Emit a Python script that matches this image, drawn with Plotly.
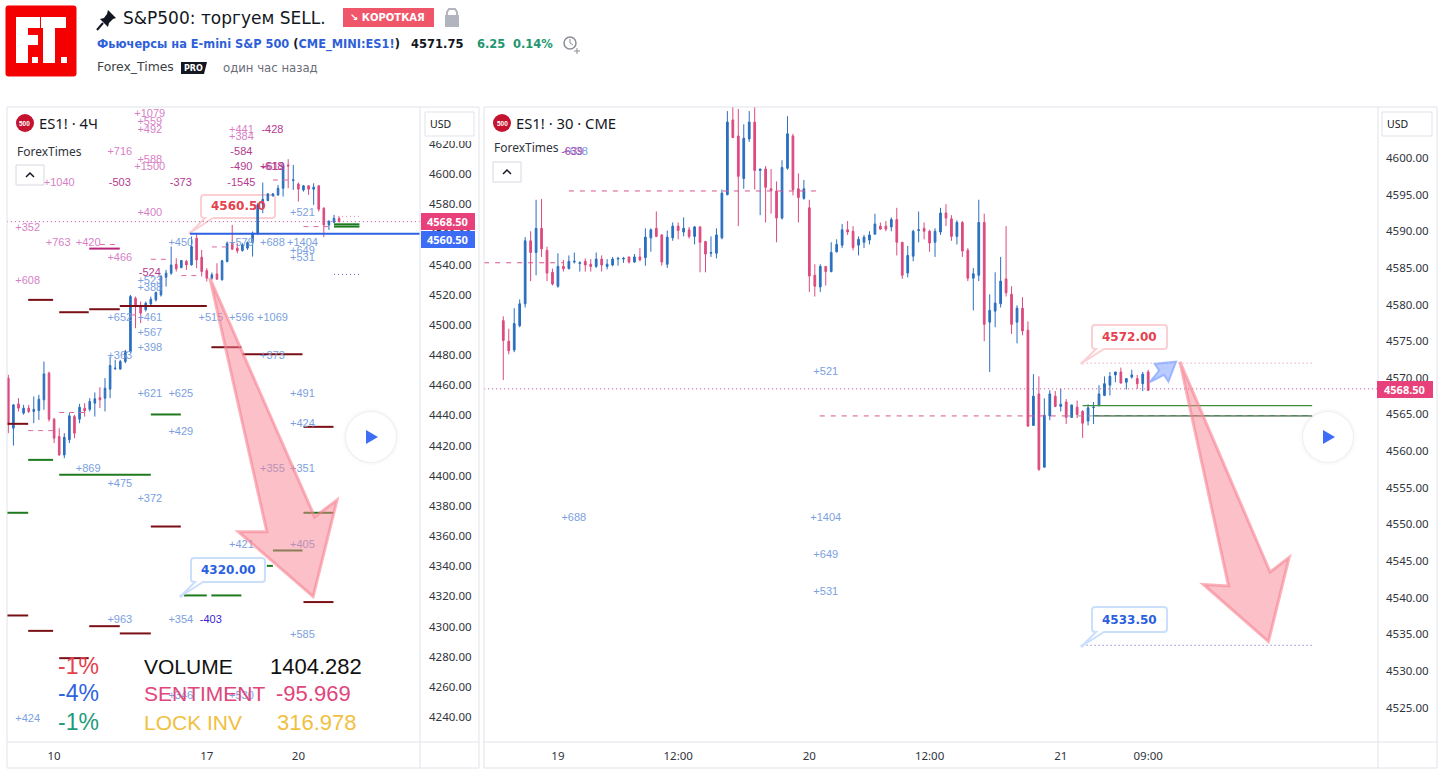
import plotly.graph_objects as go

W, H = 1443, 777
UP, DOWN = "#2a6fbf", "#dd4a7f"

# ---------- left chart: ES1! 4H ----------
left_dirs = ("d u d u d u u u d d d u u d u d u u d u u u u u u d d u u u u u u d u d u d d d "
             "u d u u d d u u u u u u u u u d u d u d u d d u u d").split()
left_high = [4466.9,4447,4451.4,4447,4447,4452.5,4453.6,4475.7,4469,4438.2,4431.5,4428.2,4441.5,4440.4,4447.6,4448.1,4451.4,4455.2,4458.7,4464.7,4479,4476.8,4476.8,4483.4,4519.9,4518.8,4515.5,4515.5,4518.8,4522.1,4533.2,4536.5,4552,4544.2,4543.1,4543.1,4558.6,4560.8,4549.7,4537.6,4534.7,4540.9,4543.1,4555.3,4566.3,4554.2,4554.2,4555.3,4561.9,4580.7,4594.4,4587.3,4587.3,4592.8,4607.2,4609.9,4606.1,4594.4,4592.8,4592.8,4593.9,4592.8,4578,4569.6,4573,4571.8]
left_top = [4464.7,4447,4447.6,4444.8,4444.8,4444,4450.7,4467.5,4468,4437.5,4426,4425.5,4439.7,4439.2,4445.4,4444.8,4449.2,4451,4451.8,4458,4473.1,4471.3,4475.7,4482.3,4518.8,4517.7,4512.2,4514.4,4517,4521.5,4532.1,4534.3,4539.8,4540.2,4542.7,4542.2,4552,4557.5,4544.9,4536,4533.2,4533.8,4542.5,4554.2,4554.6,4550.9,4553.1,4554.6,4560.8,4579.6,4583.3,4586.9,4586.9,4590.6,4605,4606.1,4596.2,4593.5,4592.2,4592.2,4591.3,4592.2,4577.4,4568.5,4570.7,4570.7]
left_bottom = [4433.7,4431.5,4444.8,4441.5,4442.6,4442.6,4443.2,4450.3,4437.5,4424.9,4413.8,4413.8,4423.8,4428.2,4437.5,4443,4444,4448.1,4450.3,4451.4,4457.4,4470.9,4470.7,4475.7,4482.3,4512.2,4507.8,4510,4513.9,4516.6,4519.9,4531.6,4534.3,4537.2,4538,4539.8,4539.8,4543.1,4535.4,4531,4531,4530.3,4529.9,4542,4550.2,4549.1,4549.3,4550.9,4554.6,4560.8,4580.2,4582.5,4585.6,4586.2,4590.6,4605.4,4595.7,4590,4589.5,4590,4590,4576.7,4566.3,4566.3,4568.1,4568.5]
left_low = [4428.2,4420,4442.6,4440.4,4441.5,4434.8,4437,4443.7,4435.9,4421.6,4413.2,4411.6,4421.6,4424.9,4434.8,4439.2,4442.6,4439.2,4444.8,4442.6,4451.4,4470.2,4470.2,4474.6,4481.2,4497.8,4501.2,4508.9,4513.2,4515.5,4518.8,4525.4,4533.2,4535.4,4537.6,4536.5,4539.3,4537.6,4532.1,4528.8,4529.9,4529.9,4529.4,4541.5,4549.7,4547.5,4548.6,4549.7,4545.3,4559.7,4574.1,4582,4585.1,4585.5,4585.1,4590.6,4589.5,4581.8,4588.4,4586.2,4579.6,4575.2,4558.2,4563,4567.4,4568]
left_ticks = [9, 39, 57]
left_tick_text = ["10", "17", "20"]
left_price_ticks = list(range(4240, 4621, 20))

left_pink_text = ["+1079","+559","+492","+441","+384","+716","+588","+1500","+1040","+400","+352","+763","+420","+466","+608"]
left_pink_bar = [27.8,27.8,27.8,45.8,45.8,21.9,27.8,27.8,10,27.8,3.8,9.8,15.7,21.9,3.8]
left_pink_price = [4639.8,4634.3,4629.4,4629.4,4624.5,4614.6,4609.5,4604.6,4594,4574.1,4564.2,4554.3,4554.3,4544.3,4528.9]
left_dark_text = ["-428","-584","-490","+619","-618","-503","-373","-1545","-524"]
left_dark_bar = [51.9,45.8,45.8,51.9,51.9,21.9,33.9,45.8,27.8]
left_dark_price = [4629.4,4614.6,4604.6,4604.6,4604.6,4594,4594,4594,4534.4]
left_blue_text = ["+450","+521","+579","+688","+1404","+649","+531","+523","+388","+652","+461","+515","+596","+1069","+567","+398","+363","+373","+621","+625","+491","+429","+424","+869","+475","+372","+355","+351","+421","+405","+963","+354","+585","+346","+530","+424"]
left_blue_bar = [33.9,57.8,45.8,51.9,57.8,57.8,57.8,27.8,27.8,21.9,27.8,39.8,45.8,51.9,27.8,27.8,21.9,51.9,27.8,33.9,57.8,33.9,57.8,15.7,21.9,27.8,51.9,57.8,45.8,57.8,21.9,33.9,57.8,33.9,45.8,3.8]
left_blue_price = [4554.3,4574.1,4554.3,4554.3,4554.3,4548.7,4544.3,4528.9,4524,4504.5,4504.5,4504.5,4504.5,4504.5,4494.2,4484.2,4479.1,4479.1,4454.1,4454.1,4454.1,4428.9,4434.2,4404,4394,4384.1,4404,4404,4353.8,4353.8,4303.9,4303.9,4293.9,4253.7,4253.7,4238.7]
left_navy_text, left_navy_bar, left_navy_price = ["-403"], [39.8], [4303.9]

left_red_start = [3.9,10,15.9,21.9,39.9,46,58,28,58,-0.3,3.9,15.9,21.9,10,-0.3]
left_red_end = [8.8,15.8,21.9,39,45.8,57.8,63.9,33.9,63.9,3.9,8.8,21.9,28,15.8,3.9]
left_red_price = [4516.6,4508.4,4510.4,4512.6,4485.2,4480.5,4432.4,4366.3,4316.2,4307.3,4297.1,4300.2,4295.4,4279,4434.4]
left_green_start = [28,3.9,10,-0.3,58,52,50.8,34.5,39.9,64,64]
left_green_end = [33.9,8.8,28,3.9,63.9,57.8,52,39,45.8,69,69]
left_green_price = [4440.6,4410.5,4400.6,4375.4,4375.4,4350.4,4340.2,4320.6,4320.6,4566.7,4565.2]
left_magenta_start, left_magenta_end, left_magenta_price = [15.9], [21.9], [4550.6]
left_dash_start = [3.9,10,28,34,40,18,52,58,24]
left_dash_end = [8.8,15.5,31.5,37.5,43,21.5,56,63.9,25.5]
left_dash_price = [4429.9,4441.9,4543.5,4532.7,4551.7,4553.3,4596.1,4565.2,4506.6]
left_dot_start, left_dot_end = [64, 64], [69, 69]
left_dot_price = [4572, 4533.5]
left_last, left_level = 4568.5, 4560.5
left_level_start = 35.7
left_arrow_bar = [39.6,50.8,45.2,59.9,64.6,60.2]
left_arrow_price = [4531.1,4362.9,4362.9,4319.8,4383.9,4372.7]

# ---------- right chart: ES1! 30 ----------
right_dirs = ("d d u u u d u d d d u d u u u d d u d u "
              "u u u d u d u u d d u u d u d u d d u u "
              "u u d d u u d u d d d u u d d u d d u d "
              "u u u d d u u u u d d u d d u u u d d u "
              "u d d u d d u u d u u u d d u d d u d u "
              "u d u d u d d u u u u u u d u u d u d").split()
right_high = [4578.4,4576.7,4579.5,4580.7,4589.2,4590,4594.3,4594.4,4587.9,4584.9,4587,4586.1,4586.7,4587.1,4585.9,4586.3,4586.2,4587.1,4586.7,4586.2,4586.5,4586.5,4586.5,4586.5,4586.9,4587.7,4590.4,4590.4,4592.7,4589.6,4590.1,4591.2,4591.2,4591.9,4590.6,4590.7,4590.7,4588.7,4589.3,4590.4,4595.7,4606.4,4608,4606.7,4604.6,4606.4,4608,4598.5,4598.9,4598.5,4596.8,4599.7,4605.7,4603.3,4597.9,4597,4594.3,4585.5,4585.5,4585.2,4588.5,4588.9,4591,4591.4,4590.7,4589.3,4589.5,4590,4592.4,4591.2,4591.4,4591.9,4593.2,4588.5,4588,4590.2,4592.7,4591.2,4590.2,4590.4,4593.2,4593.7,4592.2,4591.5,4591.4,4587.7,4585,4594.3,4592.4,4581.4,4584.4,4586.5,4590.7,4582.5,4579.9,4581,4577.7,4570.5,4570.2,4567.2,4568.3,4568.2,4568.5,4567.1,4566.3,4566.9,4565.6,4566.4,4566.7,4569,4570.2,4570.8,4570.8,4571.4,4569.9,4571.1,4570.4,4570.8,4571.1]
right_top = [4577.8,4575,4577.4,4580.1,4588.7,4588.7,4590.4,4590.4,4587.4,4584.4,4585.2,4585.2,4585.9,4585.9,4585.7,4585.9,4585.5,4586.2,4586.2,4585.5,4586.2,4586.3,4586.3,4586.5,4586.5,4586.5,4589.2,4590.2,4590.4,4589.5,4589.2,4590.7,4590.7,4590.4,4590.2,4590.6,4590.6,4588.6,4587.1,4589.5,4595.2,4604.9,4605.2,4603,4602.7,4604.9,4604.9,4598.5,4598.5,4595.8,4595.5,4598.7,4603.3,4603,4595.8,4595.8,4593.2,4584,4585.2,4585.2,4587.1,4588.2,4590.2,4590.2,4590,4588.9,4589.2,4589.5,4591,4590.7,4590.7,4591.6,4591.6,4588.5,4586.7,4590,4590.2,4590.4,4590,4590,4592.5,4592.5,4591.7,4591.2,4591.2,4587.4,4584.2,4591.2,4591.2,4579.2,4580.2,4583.2,4583.5,4581.4,4579.5,4579.5,4576.5,4567.5,4567.8,4564.9,4567.8,4567.5,4566.4,4566.7,4566.3,4566,4565.4,4565.9,4566,4567.8,4569.2,4570.2,4570.8,4570.8,4569.9,4570.4,4569.9,4570.5,4570.8]
right_bottom = [4575.1,4573.7,4573.8,4577.1,4580.1,4587.1,4587.1,4587.6,4584.3,4582.8,4582.5,4584.9,4584.9,4585.8,4585.6,4585.4,4585.2,4585.2,4585.4,4585.2,4585.4,4586.2,4586.2,4585.8,4585.8,4586.1,4586.4,4589.1,4589.3,4585.8,4585.5,4589.1,4590.1,4589.9,4589.3,4589.3,4588.5,4586.9,4587,4587,4589.1,4595,4602.8,4597.5,4597.2,4602.6,4598.3,4598.3,4596,4595.6,4591.8,4591.8,4598.6,4595.7,4594.6,4594.5,4583.9,4582.5,4582.4,4584.5,4584.5,4587.2,4588.1,4589.9,4587.8,4588.1,4588.5,4588.8,4589.6,4590.3,4590.3,4590.6,4588.5,4584,4584.3,4586.6,4590.1,4590,4588.4,4588.5,4589.9,4591.8,4589.3,4589.3,4587.3,4583.6,4583.6,4584,4577.3,4577.6,4579.1,4580.1,4581.6,4577.3,4577.6,4576.4,4563.4,4563.5,4557.5,4557.8,4564.8,4566.1,4566.1,4564.6,4564.6,4565,4563.8,4564.1,4565.95,4566.3,4567.6,4569,4570.4,4569.3,4569.4,4570.1,4569.2,4569.2,4568.3]
right_low = [4569.7,4573.2,4573.5,4576.9,4579.6,4583.2,4584,4586.5,4583.2,4582.6,4582.3,4584.5,4584.8,4585.6,4584.5,4584.5,4584.5,4585,4584.5,4584.8,4585.2,4585.3,4585.7,4585.6,4585.7,4585.9,4585.3,4587.2,4589.2,4585.3,4585,4588.7,4588.9,4589.3,4589,4588.2,4584.4,4584.4,4586.5,4586.3,4588.9,4594.9,4602.7,4590.7,4595.8,4602.2,4595.7,4592.2,4591.2,4592.4,4588.5,4591.6,4598.4,4594.9,4591.2,4594.3,4581.7,4581.1,4581.7,4582.6,4584.4,4587.1,4587.7,4589.5,4587.4,4586.7,4587.7,4588.2,4589.6,4590.2,4590,4590,4586.7,4583.5,4583.7,4585.9,4588.5,4588.9,4587.2,4586.5,4589.5,4590.7,4588.7,4588.2,4586.5,4583.2,4579.2,4583.2,4575,4570.8,4576.9,4579.6,4581.1,4576,4574.7,4575.8,4563.4,4563.5,4557.3,4557.8,4564.2,4566,4565.4,4563.7,4564.6,4564.5,4561.8,4563.5,4563.7,4566.1,4567.5,4567.6,4569.4,4569.2,4568.4,4569.9,4568.5,4568.2,4568.2]
right_ticks = [10, 32, 56, 78, 102, 118]
right_tick_text = ["19", "12:00", "20", "12:00", "21", "09:00"]
right_price_ticks = list(range(4525, 4601, 5))

right_blue_text = ["+521","+688","+1404","+649","+531","+638"]
right_blue_bar = [59,12.9,59,59,59,13.2]
right_blue_price = [4570.8,4550.8,4550.8,4545.8,4540.7,4600.8]
right_dark_text, right_dark_bar, right_dark_price = ["-639"], [12.6], [4600.8]
right_dash_start = [12,-3.5,57.9]
right_dash_end = [57.4,11.1,103]
right_dash_price = [4595.5,4585.7,4564.8]
right_grey_start, right_grey_end, right_grey_price = [103], [148], [4564.8]
right_light_green_start, right_light_green_end, right_light_green_price = [106], [148], [4566.2]
right_green_start, right_green_end, right_green_price = [108.1], [148], [4564.8]
right_dot_start, right_dot_end = [106,106], [148,148]
right_dot_price = [4572,4533.5]
right_last = 4568.5
right_arrow_bar = [123.8,132.7,128.1,140,143.8,140.3]
right_arrow_price = [4572.2,4541.6,4541.8,4534,4545.5,4543.5]
right_small_bar = [118.3,120,119.2,123.1,121.7,120.9]
right_small_price = [4569.4,4571,4571.9,4572.2,4569.5,4570.4]

legend_pct = ["-1%", "-4%", "-1%"]
legend_name = ["VOLUME", "SENTIMENT", "LOCK INV"]
legend_value = ["1404.282", "-95.969", "316.978"]


def X(x): return x / W
def Y(y): return 1 - y / H
def P(x, y): return f"{X(x):.5f},{Y(y):.5f}"


shapes, notes = [], []
def rect(x0, y0, x1, y1, fill=None, line=None, lw=1, layer="above"):
    shapes.append(dict(type="rect", xref="paper", yref="paper", x0=X(x0), x1=X(x1), y0=Y(y0), y1=Y(y1),
                       fillcolor=fill or "rgba(0,0,0,0)", line=dict(color=line or "rgba(0,0,0,0)", width=lw), layer=layer))
def circ(cx, cy, r, fill=None, line=None, lw=1, layer="above"):
    shapes.append(dict(type="circle", xref="paper", yref="paper", x0=X(cx - r), x1=X(cx + r), y0=Y(cy - r), y1=Y(cy + r),
                       fillcolor=fill or "rgba(0,0,0,0)", line=dict(color=line or "rgba(0,0,0,0)", width=lw), layer=layer))
def path(pts, fill=None, line=None, lw=1, close=True, layer="above"):
    d = "M " + " L ".join(P(*p) for p in pts) + (" Z" if close else "")
    shapes.append(dict(type="path", xref="paper", yref="paper", path=d, fillcolor=fill or "rgba(0,0,0,0)",
                       line=dict(color=line or "rgba(0,0,0,0)", width=lw), layer=layer))
def txt(x, y, s, size=12, color="#131722", font="Noto Sans", anchor="left"):
    notes.append(dict(xref="paper", yref="paper", x=X(x), y=Y(y), text=s, showarrow=False, xanchor=anchor,
                      yanchor="middle", borderpad=0, font=dict(size=size, color=color, family=font)))
def callout(x0, y0, x1, y1, tx, ty, color, text, tcolor, layer="above"):
    r = 3
    d = (f"M {P(x0 + r, y0)} L {P(x1 - r, y0)} Q {P(x1, y0)} {P(x1, y0 + r)} L {P(x1, y1 - r)} Q {P(x1, y1)} {P(x1 - r, y1)} "
         f"L {P(x0 + 12, y1)} L {P(tx, ty)} L {P(x0 + 4, y1)} L {P(x0 + r, y1)} Q {P(x0, y1)} {P(x0, y1 - r)} "
         f"L {P(x0, y0 + r)} Q {P(x0, y0)} {P(x0 + r, y0)} Z")
    shapes.append(dict(type="path", xref="paper", yref="paper", path=d, fillcolor="white", line=dict(color=color, width=2), layer=layer))
    circ(tx, ty, 1.7, fill=color, layer=layer)
    txt((x0 + x1) / 2, (y0 + y1) / 2, f"<b>{text}</b>", 12, tcolor, "DejaVu Sans", "center")


def ohlc(dirs, top, bottom):
    o = [b if d == "u" else t for d, t, b in zip(dirs, top, bottom)]
    c = [t if d == "u" else b for d, t, b in zip(dirs, top, bottom)]
    return o, c


def segs(start, end, price):
    xs, ys = [], []
    for a, b, p in zip(start, end, price):
        xs += [a, b, None]
        ys += [p, p, None]
    return xs, ys


fig = go.Figure()
def candles(high, top, bottom, low, dirs, xa, ya):
    o, c = ohlc(dirs, top, bottom)
    fig.add_trace(go.Candlestick(x=list(range(len(high))), open=o, high=high, low=low, close=c, xaxis=xa, yaxis=ya,
                                 increasing=dict(line=dict(color=UP, width=1), fillcolor=UP),
                                 decreasing=dict(line=dict(color=DOWN, width=1), fillcolor=DOWN),
                                 hoverinfo="skip", showlegend=False))
def lines(start, end, price, color, width, dash, xa, ya):
    xs, ys = segs(start, end, price)
    fig.add_trace(go.Scatter(x=xs, y=ys, mode="lines", line=dict(color=color, width=width, dash=dash), xaxis=xa, yaxis=ya,
                             hoverinfo="skip", showlegend=False))
def labels(text, bar, price, color, xa, ya):
    fig.add_trace(go.Scatter(x=bar, y=price, text=text, mode="text", textposition="middle center",
                             textfont=dict(size=11, color=color, family="Liberation Sans"), xaxis=xa, yaxis=ya,
                             hoverinfo="skip", showlegend=False))
def arrow(bar, price, fill, edge, xa, ya, lw=3):
    d = "M " + " L ".join(f"{b},{p}" for b, p in zip(bar, price)) + " Z"
    shapes.append(dict(type="path", xref=xa, yref=ya, path=d, fillcolor=fill, line=dict(color=edge, width=lw), layer="above"))


PINK, DARK, BLUE = "#d77fc6", "#b43a8f", "#7b9fe0"
DOTTED = "1px,3px"
candles(left_high, left_top, left_bottom, left_low, left_dirs, "x", "y")
lines([-0.3], [80.9], [left_last], "#b84a9c", 1, DOTTED, "x", "y")
lines([left_level_start], [80.9], [left_level], "#2e62e0", 2, "solid", "x", "y")
lines(left_red_start, left_red_end, left_red_price, "#7a1016", 2, "solid", "x", "y")
lines(left_green_start, left_green_end, left_green_price, "#1f7a1f", 2, "solid", "x", "y")
lines(left_magenta_start, left_magenta_end, left_magenta_price, "#b8267a", 2, "solid", "x", "y")
lines(left_dash_start, left_dash_end, left_dash_price, "#dd6aa0", 1, "5px,5px", "x", "y")
lines(left_dot_start[:1], left_dot_end[:1], left_dot_price[:1], "#e08ab0", 1, DOTTED, "x", "y")
lines(left_dot_start[1:], left_dot_end[1:], left_dot_price[1:], "#7060d0", 1, DOTTED, "x", "y")
labels(left_pink_text, left_pink_bar, left_pink_price, PINK, "x", "y")
labels(left_dark_text, left_dark_bar, left_dark_price, DARK, "x", "y")
labels(left_blue_text, left_blue_bar, left_blue_price, BLUE, "x", "y")
labels(left_navy_text, left_navy_bar, left_navy_price, "#3a1fd0", "x", "y")

candles(right_high, right_top, right_bottom, right_low, right_dirs, "x2", "y2")
lines([-3.5], [160.05], [right_last], "#b84a9c", 1, DOTTED, "x2", "y2")
lines(right_light_green_start, right_light_green_end, right_light_green_price, "#3f8f3f", 1.2, "solid", "x2", "y2")
lines(right_green_start, right_green_end, right_green_price, "#1c5f2a", 1.2, "solid", "x2", "y2")
lines(right_dash_start, right_dash_end, right_dash_price, "#d9548f", 1, "5px,6px", "x2", "y2")
lines(right_grey_start, right_grey_end, right_grey_price, "#a8979f", 1, "5px,6px", "x2", "y2")
lines(right_dot_start[:1], right_dot_end[:1], right_dot_price[:1], "#e08ab0", 1, DOTTED, "x2", "y2")
lines(right_dot_start[1:], right_dot_end[1:], right_dot_price[1:], "#6a5ad0", 1, DOTTED, "x2", "y2")
labels(right_blue_text, right_blue_bar, right_blue_price, BLUE, "x2", "y2")
labels(right_dark_text, right_dark_bar, right_dark_price, "#b040b0", "x2", "y2")

arrow(left_arrow_bar, left_arrow_price, "rgba(248,130,145,0.5)", "rgba(248,130,145,0.6)", "x", "y")
arrow(right_arrow_bar, right_arrow_price, "rgba(248,130,145,0.5)", "rgba(248,130,145,0.6)", "x2", "y2")
arrow(right_small_bar, right_small_price, "rgba(140,170,255,0.6)", "rgba(140,170,255,0.8)", "x2", "y2", 2)

# panel frames
GRID = "#e0e3eb"
for a, b, c in [(7, 420, 479), (484, 1378, 1437)]:
    rect(a, 107, c, 768, line=GRID)
    path([(b, 107), (b, 768)], line=GRID, close=False)
    path([(a, 742), (c, 742)], line=GRID, close=False)

# callouts
callout(201, 195, 275, 218, 190, 233, "#fbd0d5", "4560.50", "#e5414e", layer="below")
callout(191, 558, 265, 582, 181, 596, "#c9dffb", "4320.00", "#2a5fe0")
callout(1092, 325, 1167, 349, 1082, 363, "#fbd0d5", "4572.00", "#e5414e")
callout(1092, 607, 1167, 632, 1082, 646, "#c9dffb", "4533.50", "#2a5fe0")

# price tags
for x0, x1, y0, y1, col, s in [(421, 475, 213, 230, "#e8407a", "4568.50"), (421, 475, 231, 248, "#3c6cf5", "4560.50"),
                               (1377, 1433, 381, 398, "#e8407a", "4568.50")]:
    rect(x0, y0, x1, y1, fill=col)
    txt((x0 + x1) / 2 - 1, (y0 + y1) / 2, f"<b>{s}</b>", 11, "white", "Noto Sans", "center")

# USD boxes
rect(421, 108, 478, 141, fill="white")
for x0, x1 in [(425, 474), (1382, 1432)]:
    rect(x0, 112, x1, 136, fill="white", line=GRID)
    txt(x0 + 4, 124, "USD", 10.5, "#131722")

# panel legends
for cx, name, tx, fx, fy, by in [(25, "ES1! · 4Ч", 38, 16, 151, 165), (502, "ES1! · 30 · CME", 515, 493, 147, 162)]:
    circ(cx, 123, 9, fill="#c4122f")
    txt(cx, 123, "<b>500</b>", 6.5, "white", "Liberation Sans", "center")
    txt(tx, 123, name, 14.8, "#131722")
    txt(fx, fy, "ForexTimes", 12, "#30343c")
    rect(fx, by, fx + 28, by + 20, fill="white", line="#d5d8e0")
    path([(fx + 10, by + 12), (fx + 14, by + 8), (fx + 18, by + 12)], line="#131722", lw=1.5, close=False)

# play buttons
for cx in (371, 1328):
    for r, a in [(29, 0.012), (27, 0.02), (26, 0.03)]:
        circ(cx, 437, r, fill=f"rgba(0,0,0,{a})")
    circ(cx, 437, 25, fill="white")
    path([(cx - 5, 430), (cx + 7, 437), (cx - 5, 444)], fill="#3d6ef5")

# overlay stats
ST_COL = ["#e5414e", "#2e62e0", "#1f9a7a"]
COL2 = ["#111111", "#e0457b", "#f0c040"]
for i, yy in enumerate((666, 693, 722)):
    txt(100, yy, legend_pct[i], 23, ST_COL[i], "Liberation Sans", "right")
    txt(143, yy, legend_name[i], 21, COL2[i], "Liberation Sans")
    txt(363 if i == 0 else 352 if i == 1 else 358, yy, legend_value[i], 22, COL2[i], "Liberation Sans", "right")

# header
shapes.append(dict(type="path", xref="paper", yref="paper", fillcolor="#f50000", line=dict(color="#f50000", width=1), layer="above",
                   path=f"M {P(8,6)} L {P(74,6)} Q {P(76,6)} {P(76,8)} L {P(76,74)} Q {P(76,76)} {P(74,76)} L {P(8,76)} Q {P(6,76)} {P(6,74)} L {P(6,8)} Q {P(6,6)} {P(8,6)} Z"))
path([(16, 17), (40, 17), (40, 28), (28, 28), (28, 35), (38, 35), (38, 45), (28, 45), (28, 63), (16, 63)], fill="white")
path([(41, 17), (66, 17), (66, 28), (55, 28), (55, 63), (43, 63), (43, 28), (41, 28)], fill="white")
rect(32, 57, 38, 63, fill="white")
rect(61, 57, 67, 63, fill="white")
path([(108, 10), (116, 18), (113, 19), (109, 23), (108, 27), (100, 19), (104, 18), (107, 14)], fill="#131722")
path([(103, 23), (97, 30)], line="#131722", lw=2, close=False)
txt(122, 18, "S&amp;P500: торгуем SELL.", 17, "#131722", "DejaVu Sans")
rect(343, 8, 434, 27, fill="#f0566a")
txt(388, 17.5, "<b>↘ КОРОТКАЯ</b>", 10, "white", "DejaVu Sans", "center")
rect(445, 15, 459, 27, fill="#b2b5be")
path([(447, 16), (447, 12), (449, 9), (455, 9), (457, 12), (457, 16)], line="#b2b5be", lw=2, close=False)
BL = "#2e5fd8"
txt(96, 45, f"<b><span style='color:{BL}'>Фьючерсы на E-mini S&amp;P 500</span> <span style='color:#131722'>(</span>"
            f"<span style='color:{BL}'>CME_MINI:ES1!</span><span style='color:#131722'>)</span></b>", 11.4, BL, "DejaVu Sans")
txt(410, 44, "<b>4571.75</b>", 11.5, "#131722", "DejaVu Sans")
txt(476, 44, "<b>6.25</b>", 11.5, "#22966e", "DejaVu Sans")
txt(512, 44, "<b>0.14%</b>", 11.5, "#22966e", "DejaVu Sans")
circ(570, 43, 6, line="#8a8e97", lw=1.5)
path([(570, 39), (570, 43), (573, 45)], line="#8a8e97", close=False)
path([(574, 51), (580, 51)], line="#8a8e97", close=False)
path([(577, 48), (577, 54)], line="#8a8e97", close=False)
txt(96, 67, "Forex_Times", 12.4, "#3c3f45", "DejaVu Sans")
path([(181, 62), (207, 62), (204, 74), (181, 74)], fill="#131722")
txt(193, 68, "<b>PRO</b>", 8, "white", "DejaVu Sans", "center")
txt(222, 68, "один час назад", 11.7, "#6a6d78", "DejaVu Sans")

AX = dict(showgrid=False, zeroline=False, showline=False, ticks="", fixedrange=True)
TF = dict(size=11.5, color="#30343c", family="Noto Sans")
fig.update_layout(
    width=W, height=H, autosize=False, margin=dict(l=0, r=0, t=0, b=0), paper_bgcolor="white", plot_bgcolor="white",
    boxgap=0.55, showlegend=False, shapes=shapes, annotations=notes,
    xaxis=dict(AX, domain=[X(7), X(420)], range=[-0.26, 80.9], tickmode="array", tickvals=left_ticks, ticktext=left_tick_text,
               tickfont=TF, rangeslider=dict(visible=False), anchor="y", ticklabelstandoff=5),
    yaxis=dict(AX, domain=[Y(742), Y(107)], range=[4223.4, 4644.5], side="right", anchor="x", tickmode="array",
               tickvals=left_price_ticks, tickformat=".2f", tickfont=TF, ticklabelstandoff=8),
    xaxis2=dict(AX, domain=[X(484), X(1378)], range=[-3.53, 160.05], tickmode="array", tickvals=right_ticks, ticktext=right_tick_text,
                tickfont=TF, rangeslider=dict(visible=False), anchor="y2", ticklabelstandoff=5),
    yaxis2=dict(AX, domain=[Y(742), Y(107)], range=[4520.3, 4606.96], side="right", anchor="x2", tickmode="array",
                tickvals=right_price_ticks, tickformat=".2f", tickfont=TF, ticklabelstandoff=7),
)
fig.write_html("out.html", config=dict(displayModeBar=False),
               post_script="document.body.style.margin='0';document.body.style.overflow='hidden';")
